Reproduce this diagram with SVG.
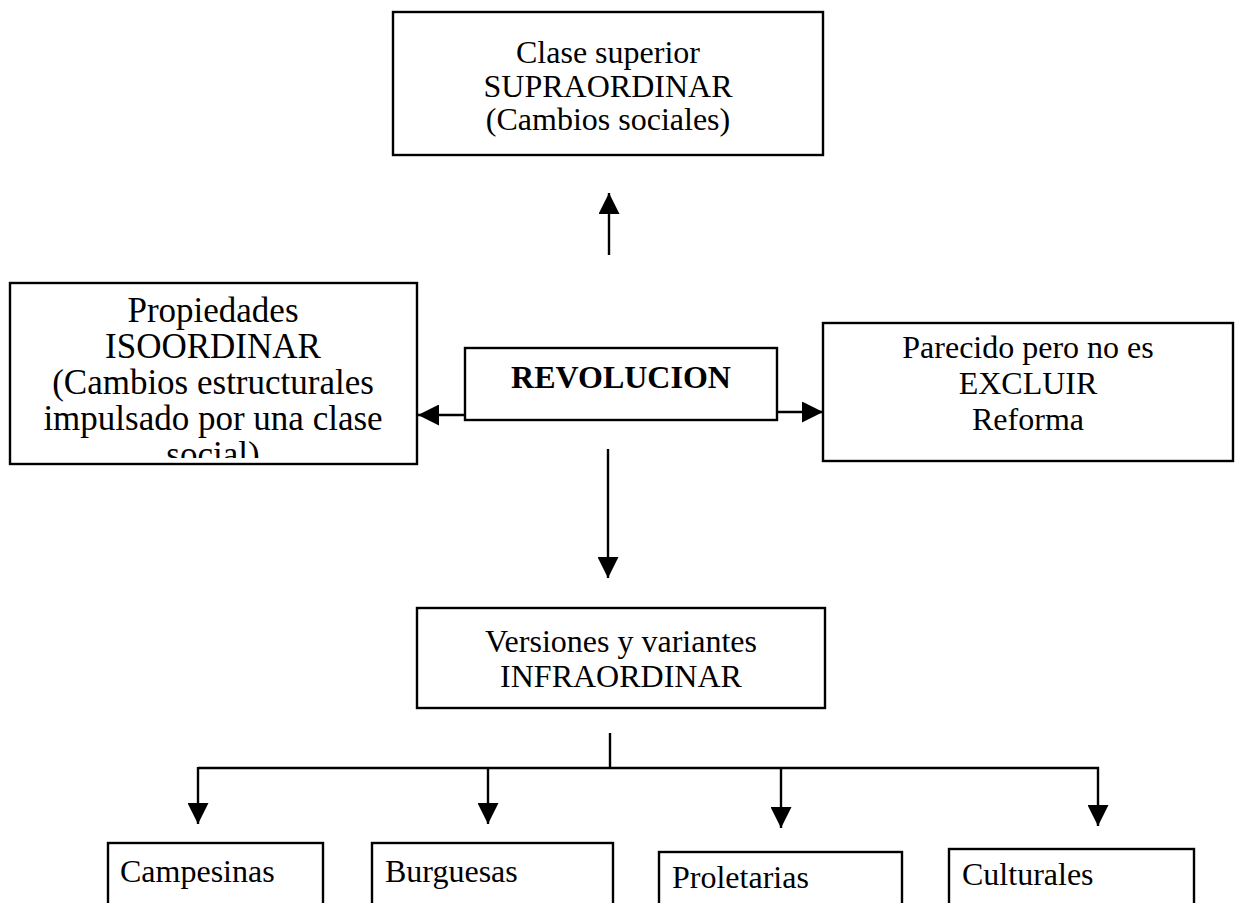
<svg xmlns="http://www.w3.org/2000/svg" width="1236" height="903" viewBox="0 0 1236 903">
<style>
.box{fill:#fff;stroke:#000;stroke-width:2.4}
.t{font-family:"Liberation Serif","Times New Roman",serif;font-size:32px;fill:#000}
.big{font-size:35px}
.c{text-anchor:middle}
.b{font-weight:bold}
.ln{fill:none;stroke:#000;stroke-width:2.4}
</style>
<defs>
<marker id="ah" viewBox="0 0 20 20" refX="20" refY="10" markerWidth="21" markerHeight="21" markerUnits="userSpaceOnUse" orient="auto">
<path d="M0,0 L20,10 L0,20 z" fill="#000"/>
</marker>
<clipPath id="clipL"><rect x="10" y="283" width="407" height="175"/></clipPath>
</defs>
<rect width="1236" height="903" fill="#fff"/>
<g id="connectors">
<line class="ln" x1="609" y1="255" x2="609" y2="193" marker-end="url(#ah)"/>
<line class="ln" x1="465" y1="415" x2="418" y2="415" marker-end="url(#ah)"/>
<line class="ln" x1="777" y1="412" x2="823" y2="412" marker-end="url(#ah)"/>
<line class="ln" x1="608" y1="449" x2="608" y2="578" marker-end="url(#ah)"/>
<line class="ln" x1="610" y1="733" x2="610" y2="768"/>
<polyline class="ln" points="198,768 1098,768 1098,826" marker-end="url(#ah)"/>
<line class="ln" x1="198" y1="767" x2="198" y2="824" marker-end="url(#ah)"/>
<line class="ln" x1="488" y1="768" x2="488" y2="824" marker-end="url(#ah)"/>
<line class="ln" x1="781" y1="768" x2="781" y2="828" marker-end="url(#ah)"/>
</g>
<g id="node-superior">
<rect class="box" x="393" y="12" width="430" height="143"/>
<text class="t c" x="608" y="63">Clase superior</text>
<text class="t c" x="608" y="97">SUPRAORDINAR</text>
<text class="t c" x="608" y="130">(Cambios sociales)</text>
</g>
<g id="node-propiedades">
<rect class="box" x="10" y="283" width="407" height="181"/>
<g clip-path="url(#clipL)">
<text class="t big c" x="213" y="322">Propiedades</text>
<text class="t big c" x="213" y="358">ISOORDINAR</text>
<text class="t big c" x="213" y="394">(Cambios estructurales</text>
<text class="t big c" x="213" y="430">impulsado por una clase</text>
<text class="t big c" x="213" y="466">social)</text>
</g>
</g>
<g id="node-revolucion">
<rect class="box" x="465" y="348" width="312" height="72"/>
<text class="t c b" x="621" y="388">REVOLUCION</text>
</g>
<g id="node-parecido">
<rect class="box" x="823" y="323" width="410" height="138"/>
<text class="t c" x="1028" y="358">Parecido pero no es</text>
<text class="t c" x="1028" y="394">EXCLUIR</text>
<text class="t c" x="1028" y="430">Reforma</text>
</g>
<g id="node-versiones">
<rect class="box" x="417" y="608" width="408" height="100"/>
<text class="t c" x="621" y="652">Versiones y variantes</text>
<text class="t c" x="621" y="687">INFRAORDINAR</text>
</g>
<g id="node-campesinas">
<rect class="box" x="108" y="843" width="215" height="80"/>
<text class="t" x="120" y="882">Campesinas</text>
</g>
<g id="node-burguesas">
<rect class="box" x="372" y="843" width="241" height="80"/>
<text class="t" x="385" y="882">Burguesas</text>
</g>
<g id="node-proletarias">
<rect class="box" x="659" y="852" width="243" height="80"/>
<text class="t" x="672" y="888">Proletarias</text>
</g>
<g id="node-culturales">
<rect class="box" x="949" y="849" width="245" height="80"/>
<text class="t" x="962" y="885">Culturales</text>
</g>
</svg>
